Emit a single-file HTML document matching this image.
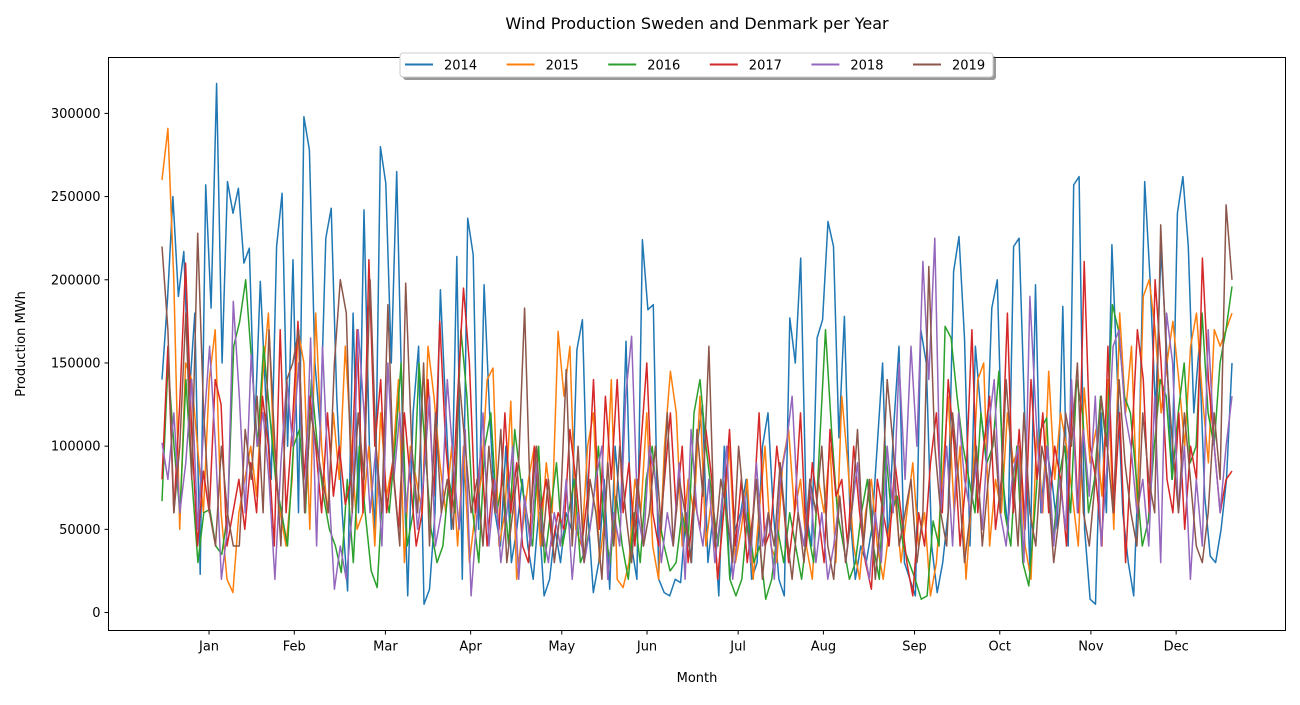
<!DOCTYPE html>
<html><head><meta charset="utf-8"><style>
body{margin:0;background:#fff;width:1300px;height:700px;overflow:hidden;font-family:"Liberation Sans","DejaVu Sans",sans-serif;}
svg text{font-family:"DejaVu Sans","Liberation Sans",sans-serif;}
</style></head><body>
<svg id="chart" width="1300" height="700" xmlns="http://www.w3.org/2000/svg">
<text x="697" y="29" text-anchor="middle" font-size="16" fill="#000">Wind Production Sweden and Denmark per Year</text>
<rect x="108.5" y="57.5" width="1177" height="573" fill="#fff" stroke="#000" stroke-width="1"/>
<g id="series"></g>
<g id="yaxis"></g>
<g id="xaxis"></g>
<text x="697" y="682" text-anchor="middle" font-size="13">Month</text>
<text transform="translate(25,344) rotate(-90)" text-anchor="middle" font-size="13">Production MWh</text>
<g id="legend"></g>
</svg>
<script>
const years = ["2014","2015","2016","2017","2018","2019"];
const colors = ["#1f77b4","#ff7f0e","#2ca02c","#d62728","#9467bd","#8c564b"];
const monthLabels = ["Jan","Feb","Mar","Apr","May","Jun","Jul","Aug","Sep","Oct","Nov","Dec"];
const monthTickDays = [16,45,76,105,136,165,196,225,256,285,316,345];
const yTicks = [0,50000,100000,150000,200000,250000,300000];
// values in thousand MWh, sampled roughly every 2 days across the year
const s2014 = [140,188,250,190,217,130,180,23,257,183,318,150,259,240,255,210,219,110,199,130,80,220,252,100,212,60,298,278,150,110,225,243,130,60,13,180,60,242,100,50,280,258,150,265,120,10,120,160,5,14,60,194,120,50,214,20,237,215,50,197,120,60,40,100,30,50,80,40,20,60,10,20,50,30,60,50,158,176,60,12,30,80,14,100,60,163,40,20,224,182,185,20,12,10,20,18,60,30,100,125,30,60,10,100,20,50,60,80,20,30,100,120,60,20,10,177,150,213,60,40,165,176,235,220,105,178,60,20,40,30,50,100,150,40,110,160,30,20,10,170,150,40,12,30,60,205,226,165,40,160,120,90,183,200,80,50,220,225,120,25,197,60,100,80,50,184,40,257,262,50,8,5,120,60,221,140,60,30,10,100,259,200,120,218,160,80,240,262,220,120,160,70,34,30,50,80,150];
const s2015 = [260,291,200,50,150,140,100,60,140,170,60,20,12,60,80,100,70,140,180,90,60,40,80,170,150,50,180,100,60,120,80,160,100,50,60,100,40,120,70,90,140,30,100,80,60,160,130,90,60,100,40,100,30,60,80,140,147,40,60,127,20,50,80,100,40,90,60,169,130,160,50,40,100,120,30,60,140,20,15,30,80,60,120,40,20,100,145,120,40,80,60,130,40,70,20,60,100,30,50,80,20,60,100,40,30,90,110,60,80,40,20,80,60,100,30,130,90,40,20,60,80,40,20,50,70,30,60,90,40,60,10,30,80,130,60,100,20,70,140,150,40,80,60,120,90,100,40,20,110,60,145,80,120,100,70,40,135,90,110,70,140,50,180,120,160,60,190,200,170,120,150,175,140,100,160,180,130,90,170,160,170,180];
const s2016 = [67,150,100,60,140,80,30,60,62,40,35,60,160,175,200,150,100,160,120,80,60,40,100,110,60,140,100,70,50,40,24,80,30,100,60,25,15,80,60,100,150,40,60,150,100,50,30,40,80,60,170,130,60,30,100,120,60,80,40,110,80,60,40,100,30,60,90,40,60,80,30,40,60,100,50,30,70,40,20,60,30,80,100,60,40,25,30,60,40,120,140,100,70,40,80,20,10,20,60,30,40,8,20,50,30,60,40,20,50,30,100,170,110,60,40,20,30,60,80,40,20,100,60,70,40,30,20,8,10,55,40,172,165,130,100,80,60,120,90,100,145,60,40,100,30,16,60,110,117,40,80,100,60,140,120,60,80,130,100,185,170,130,120,80,40,55,100,140,130,80,120,150,90,100,180,120,100,150,170,196];
const s2017 = [80,160,60,125,210,110,40,85,60,140,125,40,60,80,50,90,60,130,100,40,170,60,110,175,80,130,100,60,120,70,100,65,80,170,60,212,100,140,60,90,50,120,80,40,60,140,70,175,100,60,130,195,150,60,100,40,80,50,120,60,90,40,30,100,60,80,40,60,50,110,80,40,70,140,50,130,80,140,60,90,40,100,150,60,40,80,120,60,100,30,70,50,110,80,20,60,110,40,80,30,60,120,40,50,100,70,30,60,120,40,90,60,30,110,70,80,40,100,60,30,14,80,60,40,90,60,30,10,60,40,90,120,60,140,100,40,80,170,60,100,130,50,80,180,60,110,50,140,80,120,60,100,80,40,130,60,211,100,80,40,160,60,120,30,100,170,140,60,200,150,80,60,120,50,100,80,213,140,100,60,80,85];
const s2018 = [102,80,120,60,90,140,50,110,160,100,20,50,187,130,60,155,100,120,80,20,90,140,100,150,60,165,40,160,80,14,40,20,60,170,120,60,100,40,150,80,120,60,100,50,80,130,40,60,140,90,50,110,10,60,120,40,80,30,60,100,20,70,40,90,50,30,60,40,80,20,60,30,50,80,100,20,60,40,130,166,60,40,100,80,30,60,40,90,20,110,60,40,80,30,60,100,20,50,70,30,90,40,60,20,80,100,130,60,40,80,30,60,20,40,70,30,60,90,40,20,60,30,100,60,150,80,160,100,211,140,225,60,100,40,120,80,60,90,50,110,140,60,40,80,100,30,190,120,60,100,40,80,50,140,60,110,70,130,40,90,160,170,120,100,60,80,40,130,30,180,150,60,100,20,80,40,170,100,60,100,130];
const s2019 = [220,170,60,100,180,80,228,120,60,40,100,60,40,40,110,80,130,60,170,100,40,140,150,170,60,120,100,80,60,150,200,180,60,120,80,200,100,60,185,80,40,198,100,60,150,40,120,60,80,50,140,100,60,80,40,100,60,110,30,60,90,183,60,100,40,80,30,60,146,40,100,30,80,60,20,90,40,100,60,30,80,40,60,100,50,120,40,80,60,30,110,70,160,40,80,60,30,100,60,40,80,20,60,40,90,50,20,60,30,80,60,100,40,20,70,30,60,110,40,80,20,60,140,100,40,60,80,30,60,208,100,60,40,120,80,30,60,100,40,80,110,60,140,90,40,120,60,40,100,80,30,60,120,100,150,60,40,80,130,100,60,140,90,60,40,120,80,60,233,150,100,60,120,80,40,30,60,120,80,245,200];
const seriesData = [s2014,s2015,s2016,s2017,s2018,s2019];

const X0=108.5, X1=1285.5, Y0=57.5, Y1=630.5;
const xMin=-18.2, xMax=382.2, yMin=-10800, yMax=333600;
const xScale = d => X0 + (d - xMin)/(xMax - xMin)*(X1 - X0);
const yScale = v => Y1 - (v - yMin)/(yMax - yMin)*(Y1 - Y0);
const NS="http://www.w3.org/2000/svg";
function mk(tag, attrs, parent){const e=document.createElementNS(NS,tag);for(const k in attrs)e.setAttribute(k,attrs[k]);parent.appendChild(e);return e;}

const sg=document.getElementById('series');
seriesData.forEach((arr,si)=>{
  const n=arr.length;
  const pts=arr.map((v,i)=>xScale(i*364/(n-1)).toFixed(1)+","+yScale(v*1000).toFixed(1)).join(" ");
  const pl=mk('polyline',{points:pts,fill:"none",stroke:colors[si],"stroke-width":"1.5","stroke-linejoin":"round"},sg);
  
  
});

const ya=document.getElementById('yaxis');
yTicks.forEach(t=>{
  const y=yScale(t);
  const l=mk('line',{x1:X0-4,x2:X0,y1:y,y2:y,stroke:"#000"},ya);
  
  
  const tx=mk('text',{x:X0-8,y:y+4.5,"text-anchor":"end","font-size":"13"},ya);
  tx.textContent=String(t);
  
  
});
const xa=document.getElementById('xaxis');
monthTickDays.forEach((d,i)=>{
  const x=xScale(d);
  const l=mk('line',{x1:x,x2:x,y1:Y1,y2:Y1+4,stroke:"#000"},xa);
  
  
  const tx=mk('text',{x:x,y:Y1+20,"text-anchor":"middle","font-size":"13"},xa);
  tx.textContent=monthLabels[i];
  
  
});

const lg=document.getElementById('legend');
mk('rect',{x:403,y:56,width:593,height:24,rx:3,fill:"#555",opacity:"0.6"},lg);
const box=mk('rect',{x:400,y:53,width:593,height:24,rx:3,fill:"#fff",stroke:"#ccc"},lg);


years.forEach((yr,i)=>{
  const x=405+i*101.6;
  const ln=mk('line',{x1:x,x2:x+28,y1:64.5,y2:64.5,stroke:colors[i],"stroke-width":"2"},lg);
  
  
  const tx=mk('text',{x:x+39,y:69.5,"font-size":"13"},lg);
  tx.textContent=yr;
  
  
});
</script>
</body></html>
